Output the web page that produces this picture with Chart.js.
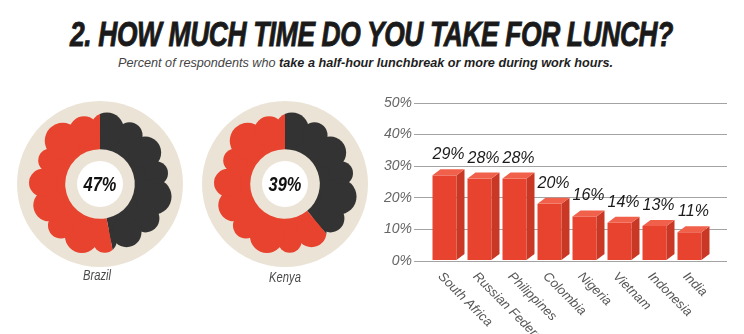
<!DOCTYPE html>
<html><head><meta charset="utf-8">
<script src="https://cdn.jsdelivr.net/npm/chart.js@4.4.1/dist/chart.umd.min.js"></script>
<style>
html,body{margin:0;padding:0;background:#fff;width:744px;height:334px;overflow:hidden;position:relative;font-family:"Liberation Sans",Arial,sans-serif;}
.abs{position:absolute;white-space:nowrap;transform-origin:0 0;}
#title{left:70px;top:16px;font-size:35px;line-height:35px;font-weight:bold;font-style:italic;color:#1a1a1a;letter-spacing:-0.5px;-webkit-text-stroke:0.9px #1a1a1a}
#sub{left:118px;top:56px;font-size:13px;line-height:13px;font-style:italic;color:#444}
#sub b{color:#1e1e1e}
.lbl{position:absolute;width:100px;text-align:center;font-size:14px;line-height:14px;font-style:italic;color:#4a4a4a;transform:scaleX(0.8);transform-origin:50% 0}
canvas{position:absolute;}
</style></head>
<body>
<div id="title" class="abs">2. HOW MUCH TIME DO YOU TAKE FOR LUNCH?</div>
<div id="sub" class="abs">Percent of respondents who <b>take a half-hour lunchbreak or more during work hours.</b></div>
<canvas id="d0" width="180" height="180" style="left:10px;top:94px;width:180px;height:180px"></canvas>
<canvas id="d1" width="180" height="180" style="left:195px;top:94px;width:180px;height:180px"></canvas>
<div id="l0" class="lbl" style="left:47px;top:268px"></div>
<div id="l1" class="lbl" style="left:235px;top:270px"></div>
<canvas id="bars" width="374" height="244" style="left:370px;top:90px;width:374px;height:244px"></canvas>
<script>
// ---- data ----
const donutNames = ['Brazil', 'Kenya'];
const donutValues = [47, 39];
const barCategories = ['South Africa', 'Russian Federation', 'Philippines', 'Colombia', 'Nigeria', 'Vietnam', 'Indonesia', 'India'];
const barValues = [29, 28, 28, 20, 16, 14, 13, 11];
const yTickMin = 0, yTickMax = 50, yTickStep = 10;

// ---- styles ----
const RED = '#e8432f', DARK = '#333333', BEIGE = '#ebe4d6';
const RED_TOP = '#f0604a', RED_SIDE = '#c93824';
// decorative scallop sizes (cloud edge), not data
const bumpSizes = [17, 13, 16, 12, 18, 14, 15, 12, 17, 13, 16, 14, 12, 18, 15];

function fitWidth(id, target) {
  const el = document.getElementById(id);
  const w = el.getBoundingClientRect().width;
  el.style.transform = 'scaleX(' + (target / w) + ')';
}
fitWidth('title', 603);
fitWidth('sub', 495);

const donutDeco = {
  id: 'donutDeco',
  beforeDraw(chart) {
    const ctx = chart.ctx;
    const a = chart.getDatasetMeta(0).data[0];
    ctx.save();
    ctx.fillStyle = BEIGE;
    ctx.beginPath(); ctx.arc(a.x, a.y, 83, 0, Math.PI * 2); ctx.fill();
    ctx.restore();
  },
  afterDatasetsDraw(chart) {
    const ctx = chart.ctx;
    const meta = chart.getDatasetMeta(0);
    const step = Math.PI * 2 / bumpSizes.length;
    meta.data.forEach((arc) => {
      const p = arc.getProps(['x', 'y', 'startAngle', 'endAngle', 'outerRadius'], true);
      ctx.save();
      ctx.beginPath();
      ctx.moveTo(p.x, p.y);
      ctx.arc(p.x, p.y, p.outerRadius + 40, p.startAngle, p.endAngle);
      ctx.closePath();
      ctx.clip();
      ctx.fillStyle = arc.options.backgroundColor;
      bumpSizes.forEach((r, k) => {
        const ang = -Math.PI / 2 + (k + 0.3) * step;
        const rr = p.outerRadius - (k % 2 ? 1 : 3);
        const cx = p.x + Math.cos(ang) * rr;
        const cy = p.y + Math.sin(ang) * rr;
        ctx.beginPath(); ctx.arc(cx, cy, r, 0, Math.PI * 2); ctx.fill();
      });
      ctx.restore();
    });
    const a = meta.data[0];
    ctx.save();
    ctx.fillStyle = '#ffffff';
    ctx.beginPath(); ctx.arc(a.x, a.y, 23, 0, Math.PI * 2); ctx.fill();
    ctx.translate(a.x, a.y + 7);
    ctx.scale(0.82, 1);
    ctx.fillStyle = '#111';
    ctx.font = 'italic bold 20px "Liberation Sans", Arial, sans-serif';
    ctx.textAlign = 'center';
    ctx.textBaseline = 'alphabetic';
    ctx.fillText(chart.data.datasets[0].data[0] + '%', 0, 0);
    ctx.restore();
  }
};

donutNames.forEach((name, i) => {
  document.getElementById('l' + i).textContent = name;
  new Chart(document.getElementById('d' + i), {
    type: 'doughnut',
    data: {
      labels: ['Yes', 'No'],
      datasets: [{
        data: [donutValues[i], 100 - donutValues[i]],
        backgroundColor: [DARK, RED],
        borderWidth: 0
      }]
    },
    options: {
      responsive: false,
      animation: false,
      devicePixelRatio: 1,
      cutout: '60%',
      layout: { padding: 32 },
      plugins: { legend: { display: false }, tooltip: { enabled: false } }
    },
    plugins: [donutDeco]
  });
});

const bar3d = {
  id: 'bar3d',
  afterDatasetsDraw(chart) {
    const ctx = chart.ctx;
    const meta = chart.getDatasetMeta(0);
    const dx = 8, dy = 6;
    ctx.save();
    meta.data.forEach((b, i) => {
      const p = b.getProps(['x', 'y', 'base', 'width'], true);
      const L = p.x - p.width / 2;
      const fw = p.width - dx;
      const base = p.base - 0.5;
      ctx.fillStyle = RED;
      ctx.fillRect(L, p.y + dy, fw, base - (p.y + dy));
      ctx.fillStyle = RED_SIDE;
      ctx.beginPath();
      ctx.moveTo(L + fw, p.y + dy);
      ctx.lineTo(L + fw + dx, p.y);
      ctx.lineTo(L + fw + dx, base - dy);
      ctx.lineTo(L + fw, base);
      ctx.closePath(); ctx.fill();
      ctx.fillStyle = RED_TOP;
      ctx.beginPath();
      ctx.moveTo(L, p.y + dy);
      ctx.lineTo(L + dx, p.y);
      ctx.lineTo(L + fw + dx, p.y);
      ctx.lineTo(L + fw, p.y + dy);
      ctx.closePath(); ctx.fill();
      ctx.fillStyle = '#1a1a1a';
      ctx.font = 'italic 16px "Liberation Sans", Arial, sans-serif';
      ctx.textAlign = 'center';
      ctx.textBaseline = 'alphabetic';
      ctx.fillText(chart.data.datasets[0].data[i] + '%', p.x, p.y - 10);
    });
    const xs = chart.scales.x;
    ctx.font = 'italic 13px "Liberation Sans", Arial, sans-serif';
    ctx.fillStyle = '#555';
    ctx.textAlign = 'left';
    ctx.textBaseline = 'alphabetic';
    chart.data.labels.forEach((lab, i) => {
      const cx = xs.getPixelForValue(i);
      ctx.save();
      ctx.translate(cx - 11, xs.top + 16);
      ctx.rotate(Math.PI / 4);
      ctx.fillText(lab, 0, 0);
      ctx.restore();
    });
    ctx.restore();
  }
};

new Chart(document.getElementById('bars'), {
  type: 'bar',
  data: {
    labels: barCategories,
    datasets: [{
      data: barValues,
      backgroundColor: 'rgba(0,0,0,0)',
      borderWidth: 0,
      barPercentage: 32 / 35,
      categoryPercentage: 1,
      yAxisID: 'y'
    }]
  },
  options: {
    responsive: false,
    animation: false,
    devicePixelRatio: 1,
    layout: { padding: { top: 13, left: 0, right: 0, bottom: 0 } },
    plugins: { legend: { display: false }, tooltip: { enabled: false } },
    scales: {
      x: {
        grid: { display: false },
        border: { display: false },
        ticks: { display: false },
        afterFit(s) { s.height = 73; }
      },
      y: {
        position: 'left',
        min: yTickMin, max: yTickMax,
        ticks: {
          stepSize: yTickStep,
          padding: 2,
          color: '#666',
          font: { family: '"Liberation Sans", Arial, sans-serif', size: 14, style: 'italic' },
          callback: v => v + '%'
        },
        grid: { color: '#a3a3a3', lineWidth: 1, tickLength: 17, drawTicks: true },
        border: { display: false },
        afterFit(s) { s.width = 61; }
      },
      y2: {
        position: 'right',
        min: yTickMin, max: yTickMax,
        ticks: { stepSize: yTickStep, display: false },
        grid: { color: '#a3a3a3', lineWidth: 1, tickLength: 16, drawTicks: true, drawOnChartArea: false },
        border: { display: false },
        afterFit(s) { s.width = 33; }
      }
    }
  },
  plugins: [bar3d]
});
</script>
</body></html>
